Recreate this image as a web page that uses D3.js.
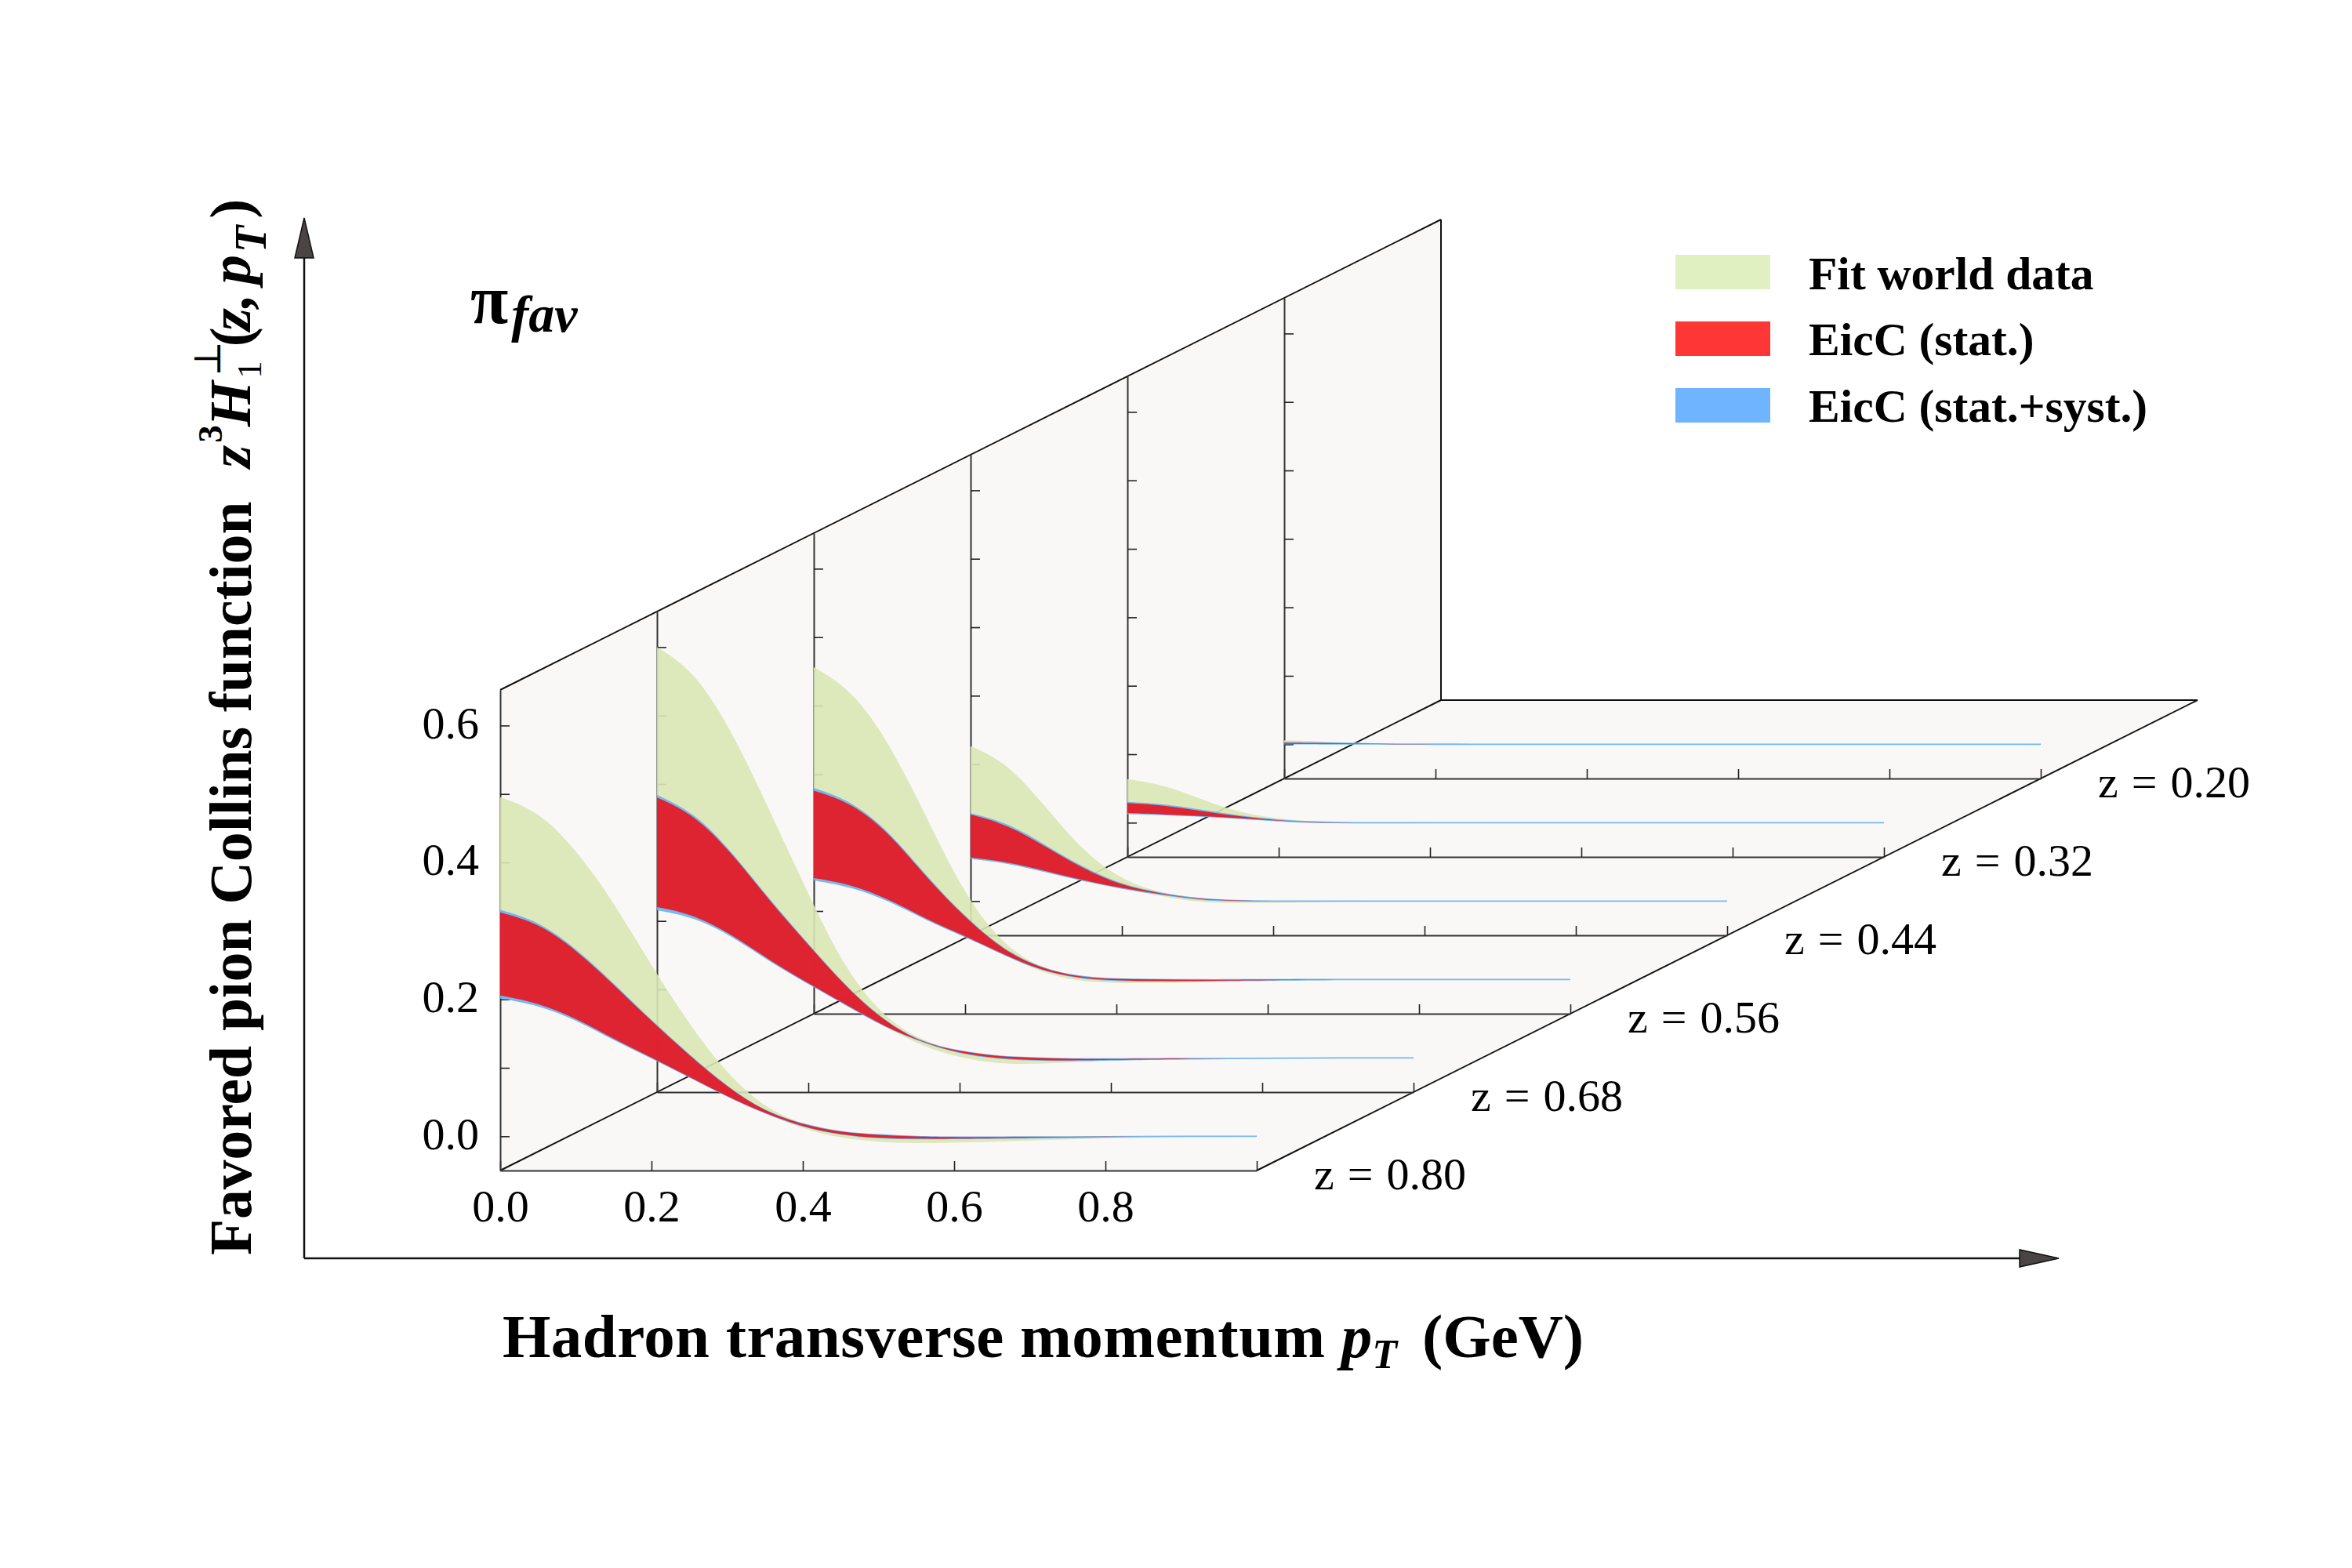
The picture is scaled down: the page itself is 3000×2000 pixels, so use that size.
<!DOCTYPE html>
<html><head><meta charset="utf-8">
<script src="https://cdn.jsdelivr.net/npm/d3@7"></script>
<style>html,body{margin:0;padding:0;background:#fff}svg{display:block}text{font-family:"Liberation Serif",serif;fill:#000}</style>
</head><body><svg id="c" width="3000" height="2000"></svg>
<script>
// ---- data ----
const zLabels = ["z = 0.80","z = 0.68","z = 0.56","z = 0.44","z = 0.32","z = 0.20"];
const pT = [0,.05,.1,.15,.2,.25,.3,.35,.4,.45,.5,.55,.6,.7,.8,.9,1];
const xTicks = [0,.2,.4,.6,.8,1];
const xTickLabels = ["0.0","0.2","0.4","0.6","0.8",""];
const yTicks = [0,.1,.2,.3,.4,.5,.6];
const yLabelled = ["0.0","0.2","0.4","0.6"];
const greenUpper = [
 [.4954,.4756,.4192,.342,.249,.163,.0907,.041,.017,.0058,.0019,-.0005,-.0015,-.001,-.0005,0,0],
 [.600,.565,.4755,.359,.2388,.1265,.059,.0245,.0095,.0025,0,-.0012,-.0016,-.001,-.0005,0,0],
 [.4562,.4238,.3457,.2351,.122,.0503,.0165,.0048,.0008,0,0,0,0,0,0,0,0],
 [.2264,.2008,.136,.0713,.0304,.0122,.0035,.0006,0,0,0,0,0,0,0,0,0],
 [.0636,.055,.033,.014,.0055,.0015,.0004,0,0,0,0,0,0,0,0,0,0],
 [.0057,.0044,.0018,.0006,.0002,.0001,0,0,0,0,0,0,0,0,0,0,0]];
const greenLower = [
 [.2058,.1951,.1726,.1421,.1153,.0869,.0583,.0335,.0107,-.0027,-.0084,-.0105,-.0095,-.006,-.003,-.001,0],
 [.2204,.209,.1796,.1416,.109,.0776,.046,.017,0,-.0086,-.009,-.0065,-.004,-.001,0,0,0],
 [.1482,.1387,.117,.0873,.0636,.037,.0103,-.003,-.0053,-.0053,-.0045,-.003,-.002,-.0005,0,0,0],
 [.0636,.0572,.0438,.0301,.0187,.0075,-.002,-.0028,-.0026,-.002,-.001,-.0005,0,0,0,0,0],
 [.014,.012,.0095,.0065,.0027,-.0008,-.0012,-.0012,-.0008,-.0004,0,0,0,0,0,0,0],
 [.0004,.0003,.0002,.0001,-.0002,-.0002,-.0001,0,0,0,0,0,0,0,0,0,0]];
const redUpper = [
 [.327,.3117,.2729,.2214,.168,.1182,.0716,.0354,.017,.0057,.0019,-.0005,-.0015,-.001,-.0005,0,0],
 [.3804,.355,.298,.2274,.1653,.103,.0535,.0216,.0095,.002,0,-.0016,-.0016,-.001,-.0005,0,0],
 [.2759,.258,.2142,.1475,.0903,.0427,.016,.0034,.0004,0,-.0005,-.0005,-.0003,0,0,0,0],
 [.1265,.1113,.0789,.0465,.0225,.011,.0032,.0006,0,0,0,0,0,0,0,0,0],
 [.0286,.0255,.0165,.009,.003,.0005,0,0,0,0,0,0,0,0,0,0,0],
 [.0022,.0018,.0008,.0003,.0001,0,0,0,0,0,0,0,0,0,0,0,0]];
const redLower = [
 [.2058,.1951,.1726,.1421,.1153,.0869,.0583,.0335,.0137,.0023,-.0027,-.0036,-.0036,-.002,-.0008,0,0],
 [.2204,.209,.1796,.1416,.109,.0776,.046,.0233,.0065,-.0008,-.0033,-.0037,-.003,-.0015,-.0005,0,0],
 [.1482,.1387,.117,.0873,.0636,.037,.0133,.0019,-.0015,-.0023,-.0023,-.0015,-.001,0,0,0,0],
 [.0636,.0572,.0438,.0301,.0187,.0103,.0022,.0002,0,0,0,0,0,0,0,0,0],
 [.0141,.012,.0095,.0065,.0027,0,0,0,0,0,0,0,0,0,0,0,0],
 [.0008,.0006,.0004,.0002,0,0,0,0,0,0,0,0,0,0,0,0,0]];
const blueUpper = [
 [.3308,.3147,.2749,.2234,.1695,.1194,.0726,.0364,.018,.0067,.0029,.0005,-.0005,0,.0005,.001,.001],
 [.3842,.358,.3,.2294,.1668,.1042,.0545,.0226,.0105,.003,.001,-.0006,-.0006,0,.0005,.001,.001],
 [.2797,.261,.2162,.1495,.0918,.0439,.017,.0044,.0014,.001,.0005,.0005,.0007,.001,.001,.001,.001],
 [.1285,.1143,.0809,.0485,.024,.0122,.0042,.0016,.001,.001,.001,.001,.001,.001,.001,.001,.001],
 [.0305,.0275,.0185,.01,.004,.0015,.001,.001,.001,.001,.001,.001,.001,.001,.001,.001,.001],
 [.0032,.0028,.0018,.0013,.0011,.001,.001,.001,.001,.001,.001,.001,.001,.001,.001,.001,.001]];
const blueLower = [
 [.2012,.1916,.1701,.1401,.1138,.0857,.0573,.0325,.0127,.0013,-.0037,-.0046,-.0046,-.003,-.0018,-.001,-.001],
 [.2158,.2055,.1771,.1396,.1075,.0764,.045,.0223,.0055,-.0018,-.0043,-.0047,-.004,-.0025,-.0015,-.001,-.001],
 [.1446,.1352,.1145,.0853,.0621,.0358,.0123,.0009,-.0025,-.0033,-.0033,-.0025,-.002,-.001,-.001,-.001,-.001],
 [.0616,.0552,.0418,.0286,.0175,.0091,.0012,-.0008,-.001,-.001,-.001,-.001,-.001,-.001,-.001,-.001,-.001],
 [.0125,.011,.0085,.0055,.0017,-.001,-.001,-.001,-.001,-.001,-.001,-.001,-.001,-.001,-.001,-.001,-.001],
 [-.0002,-.0004,-.0006,-.0008,-.001,-.001,-.001,-.001,-.001,-.001,-.001,-.001,-.001,-.001,-.001,-.001,-.001]];
const legendLabels = ["Fit world data","EicC (stat.)","EicC (stat.+syst.)"];
const legendColors = ["#e0f0c1","#ff3636","#6fb4ff"];
const bandColors = {green:"#d9e6b5",red:"#e41a26",blue:"#66b1f4"};

// ---- geometry ----
const svg = d3.select("#c");
const W=965, H=613, stepX=200, stepY=-100, X0=638, Y0=1493, nP=6;
const x = d3.scaleLinear().domain([0,1]).range([0,W]);
const y = d3.scaleLinear().domain([-.05,.652]).range([H,0]);
const ox = i=>X0+i*stepX, oy = i=>Y0+i*stepY;

// walls and floor
const back = nP;
svg.append("path").attr("fill","#f9f8f6")
  .attr("d",`M${ox(0)},${oy(0)}L${ox(0)},${oy(0)-H}L${ox(back)},${oy(back)-H}L${ox(back)},${oy(back)}L${ox(back)+W},${oy(back)}L${ox(0)+W},${oy(0)}Z`);

const lines = svg.append("g");
const frame=(a,b,c,d,w)=>lines.append("line").attr("x1",a).attr("y1",b).attr("x2",c).attr("y2",d).attr("stroke","#111").attr("stroke-width",w);
frame(ox(0),oy(0)-H,ox(back),oy(back)-H,2);
frame(ox(0),oy(0),ox(back),oy(back),2);
frame(ox(0)+W,oy(0),ox(back)+W,oy(back),2);
frame(ox(back),oy(back)-H,ox(back),oy(back),2);
frame(ox(back),oy(back),ox(back)+W,oy(back),2);

const styleAxis=g=>{g.selectAll("path.domain").attr("stroke","#333").attr("stroke-width",2);
  g.selectAll(".tick line").attr("stroke","#222").attr("stroke-width",1.6);
  g.attr("font-family",null).attr("font-size",null);};

for(let i=0;i<nP;i++){
  const gx = lines.append("g").attr("transform",`translate(${ox(i)},${oy(i)})`)
    .call(d3.axisBottom(x).tickValues(xTicks).tickSizeInner(-12).tickSizeOuter(0).tickPadding(30)
      .tickFormat((d,k)=> i===0 ? xTickLabels[k] : "")).call(styleAxis);
  gx.selectAll("text").attr("font-size",58).attr("dy",0).attr("y",65);
  const gy = lines.append("g").attr("transform",`translate(${ox(i)},${oy(i)-H})`)
    .call(d3.axisLeft(y).tickValues(yTicks).tickSizeInner(-12).tickSizeOuter(0).tickPadding(26)
      .tickFormat(d=> (i===0 && Math.round(d*10)%2===0) ? yLabelled[Math.round(d*5)] : "")).call(styleAxis);
  gy.selectAll("text").attr("font-size",58).attr("x",-27).attr("dy","0.27em");
}

// bands, back to front
const band = (up,lo)=>d3.area().x((d,k)=>x(pT[k])).y0((d,k)=>y(lo[k])).y1((d,k)=>y(up[k])).curve(d3.curveBasis)(pT);
const bands = svg.append("g");
for(let i=nP-1;i>=0;i--){
  const g=bands.append("g").attr("transform",`translate(${ox(i)},${oy(i)-H})`);
  g.append("path").attr("d",band(greenUpper[i],greenLower[i])).attr("fill",bandColors.green).attr("fill-opacity",.9);
  g.append("path").attr("d",band(blueUpper[i],blueLower[i])).attr("fill",bandColors.blue).attr("fill-opacity",.9);
  g.append("path").attr("d",band(redUpper[i],redLower[i])).attr("fill",bandColors.red).attr("fill-opacity",.95);
}

// z labels
svg.append("g").selectAll("text").data(zLabels).join("text")
  .attr("x",(d,i)=>1676+i*stepX).attr("y",(d,i)=>1517+i*stepY).attr("font-size",58).attr("word-spacing",2.5).text(d=>d);

// big arrows
const arrows=svg.append("g");
arrows.append("line").attr("x1",388).attr("y1",1605).attr("x2",388).attr("y2",320).attr("stroke","#111").attr("stroke-width",2.5);
arrows.append("line").attr("x1",388).attr("y1",1605).attr("x2",2580).attr("y2",1605).attr("stroke","#111").attr("stroke-width",2.5);
arrows.append("path").attr("d","M388,278L400,329L376,329Z").attr("fill","#4a4445").attr("stroke","#111").attr("stroke-width",1.5);
arrows.append("path").attr("d","M2626,1605L2576,1594L2576,1616Z").attr("fill","#4a4445").attr("stroke","#111").attr("stroke-width",1.5);

// legend
const leg=svg.append("g");
const swatchY=[325,410,495], textY=[369,453,538];
leg.selectAll("rect").data(legendLabels).join("rect").attr("x",2137).attr("y",(d,i)=>swatchY[i]).attr("width",121).attr("height",44).attr("fill",(d,i)=>legendColors[i]);
leg.selectAll("text").data(legendLabels).join("text").attr("x",2307).attr("y",(d,i)=>textY[i]).attr("font-size",59.5).attr("font-weight","bold").text(d=>d);

// pi fav
const pf=svg.append("text").attr("x",600).attr("y",412).attr("font-weight","bold");
pf.append("tspan").attr("font-size",88).text("π");
pf.append("tspan").attr("font-size",66).attr("font-style","italic").attr("dx",4).attr("dy",11).text("fav");

// x title
const xt=svg.append("text").attr("x",641).attr("y",1731).attr("font-size",79).attr("font-weight","bold");
xt.append("tspan").attr("letter-spacing",.42).text("Hadron transverse momentum ");
xt.append("tspan").attr("font-style","italic").text("p");
xt.append("tspan").attr("font-style","italic").attr("font-size",52).attr("dy",14).text("T");
xt.append("tspan").attr("dy",-14).attr("dx",32).text("(GeV)");

// y title
svg.append("text").attr("transform","translate(320,1601) rotate(-90)").attr("font-size",75.5).attr("font-weight","bold").text("Favored pion Collins function");
const yt=svg.append("text").attr("transform","translate(319,597) rotate(-90)").attr("font-size",75).attr("font-weight","bold");
yt.append("tspan").attr("font-style","italic").text("z");
yt.append("tspan").attr("font-size",45).attr("dy",-36).attr("dx",3).text("3");
yt.append("tspan").attr("font-style","italic").attr("dy",36).attr("dx",-2).text("H");
yt.append("tspan").attr("font-size",48).attr("font-weight","normal").attr("font-family","DejaVu Serif").attr("dy",-38).attr("dx",6).text("⊥");
yt.append("tspan").attr("font-size",45).attr("font-weight","normal").attr("dy",52).attr("dx",-48).text("1");
yt.append("tspan").attr("dy",-14).attr("dx",18).text("(");
yt.append("tspan").attr("font-style","italic").attr("dx",-5).text("z,");
yt.append("tspan").attr("font-style","italic").attr("dx",12).text("p");
yt.append("tspan").attr("font-style","italic").attr("font-size",56).attr("dy",20).attr("dx",3).text("T");
yt.append("tspan").attr("dy",-20).attr("dx",9).text(")");
</script></body></html>
